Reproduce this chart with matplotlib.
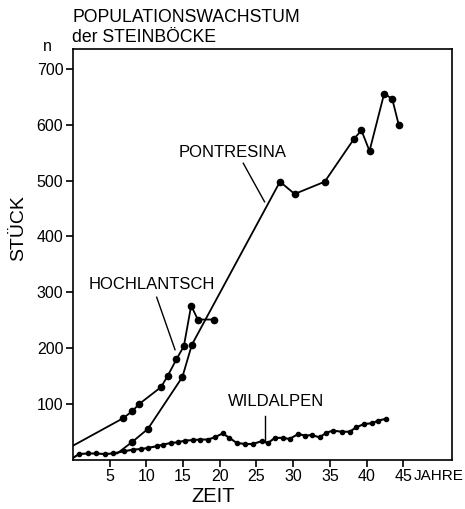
import matplotlib.pyplot as plt

plt.rcParams['font.family'] = ['Liberation Sans', 'DejaVu Sans']

# Pontresina
pon_x = [6, 8.1, 10.2, 14.9, 16.2, 28.2, 30.2, 34.3, 38.3, 39.3, 40.4, 42.4, 43.5, 44.4]
pon_y = [11, 32, 55, 148, 206, 498, 476, 498, 575, 590, 553, 656, 646, 599]

# Hochlantsch
hoch_x = [0, 6.8, 8.1, 8.95, 12.0, 12.9, 14.1, 15.1, 16.1, 17.0, 19.2]
hoch_y = [25, 74, 87, 99, 130, 150, 180, 203, 276, 251, 251]

# Wildalpen
wild_x = [0, 0.8, 2.0, 3.2, 4.3, 5.4, 7.0, 8.2, 9.3, 10.2, 11.4, 12.3, 13.4, 14.3,
          15.2, 16.3, 17.3, 18.4, 19.3, 20.4, 21.3, 22.3, 23.4, 24.5, 25.7, 26.6,
          27.5, 28.6, 29.5, 30.7, 31.6, 32.5, 33.6, 34.5, 35.4, 36.6, 37.7, 38.6,
          39.7, 40.7, 41.6, 42.6]
wild_y = [3, 10, 11, 11, 10, 11, 15, 18, 19, 21, 24, 27, 30, 31, 34, 35, 36, 36,
          40, 47, 39, 30, 28, 28, 33, 30, 39, 39, 37, 46, 43, 44, 40, 48, 52, 50,
          50, 58, 64, 65, 70, 73]

xticks = [5, 10, 15, 20, 25, 30, 35, 40, 45]
yticks = [100, 200, 300, 400, 500, 600, 700]

W, H = 465, 509
fig = plt.figure(figsize=(W / 100, H / 100), dpi=100)
ax = fig.add_axes([0.157, 0.097, 0.816, 0.807])

ax.plot(pon_x, pon_y, color='black', lw=1.3, marker='o', ms=4.5,
        markevery=slice(1, None))
ax.plot(hoch_x, hoch_y, color='black', lw=1.3, marker='o', ms=4.5,
        markevery=slice(1, None))
ax.plot(wild_x, wild_y, color='black', lw=1.5, marker='o', ms=3,
        markevery=slice(1, None))

# labels with leader lines
ax.text(21.8, 550, 'PONTRESINA', fontsize=12, ha='center', va='center')
ax.plot([23.2, 26.1], [531, 462], color='black', lw=1)
ax.text(10.8, 313, 'HOCHLANTSCH', fontsize=12, ha='center', va='center')
ax.plot([11.4, 13.9], [291, 197], color='black', lw=1)
ax.text(27.6, 104, 'WILDALPEN', fontsize=12, ha='center', va='center')
ax.plot([26.1, 26.1], [78, 32], color='black', lw=1)

ax.set_xlim(0, 51.7)
ax.set_ylim(0, 736)
ax.set_xticks(xticks)
ax.set_yticks(yticks)
ax.tick_params(direction='out', length=5, width=1.2, labelsize=11.5, pad=2)
for s in ax.spines.values():
    s.set_linewidth(1.2)

ax.text(-0.142, 0.564, 'STÜCK', fontsize=14, rotation=90, ha='center',
        va='center', transform=ax.transAxes)
fig.text(213 / W, 1 - 497 / H, 'ZEIT', fontsize=14.5, ha='center', va='center')
ax.text(49.8, -17, 'JAHRE', fontsize=11, ha='center', va='top', clip_on=False)
ax.text(-3.5, 740, 'n', fontsize=11.5, ha='center', va='center', clip_on=False)

fig.text(72 / W, 1 - 18 / H, 'POPULATIONSWACHSTUM', fontsize=12.7,
         ha='left', va='center')
fig.text(72 / W, 1 - 38 / H, 'der STEINBÖCKE', fontsize=12.7,
         ha='left', va='center')

fig.savefig('out.png', dpi=100)
